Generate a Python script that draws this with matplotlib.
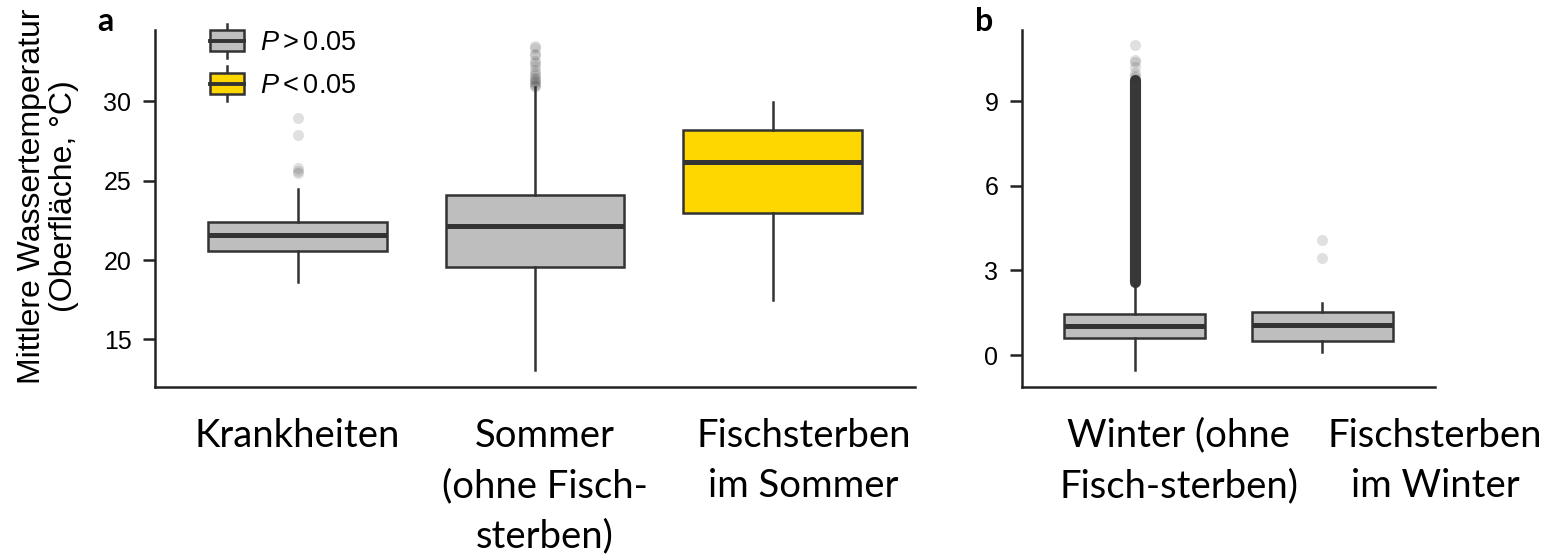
import matplotlib
matplotlib.use("Agg")
import matplotlib.pyplot as plt
from matplotlib.legend_handler import HandlerBase
from matplotlib.patches import Rectangle
from matplotlib.lines import Line2D

# panel a: surface water temperature in summer groups
summer_groups = ["Krankheiten", "Sommer\n(ohne Fisch-\nsterben)", "Fischsterben\nim Sommer"]
summer_q1 = [20.6, 19.55, 22.95]
summer_med = [21.6, 22.12, 26.16]
summer_q3 = [22.4, 24.08, 28.17]
summer_whislo = [18.6, 13.05, 17.46]
summer_whishi = [24.45, 30.88, 29.94]
summer_fliers = [
    [28.93, 27.86, 25.78, 25.62, 25.46],
    [33.5, 33.35, 33.0, 32.9, 32.55, 32.4, 32.2, 32.0, 31.8, 31.65, 31.5,
     31.4, 31.3, 31.2, 31.1, 31.0, 30.95],
    [],
]
summer_signif = [False, False, True]

# panel b: winter groups
winter_groups = ["Winter (ohne\nFisch-sterben)", "Fischsterben\nim Winter"]
winter_q1 = [0.6, 0.5]
winter_med = [1.03, 1.06]
winter_q3 = [1.45, 1.52]
winter_whislo = [-0.53, 0.1]
winter_whishi = [2.55, 1.84]
winter_fliers = [
    [11.0, 10.45, 10.38, 10.2, 10.0, 9.9, 9.82],
    [4.08, 3.44],
]
# range covered by thousands of overlapping outliers (winter without fish kills)
winter_dense_span = (2.6, 9.75)
winter_signif = [False, False]

GREY = "#bebebe"
GOLD = "#ffd700"
INK = "#333333"

plt.rcParams["font.family"] = ["Liberation Sans", "DejaVu Sans"]
plt.rcParams["mathtext.fontset"] = "custom"
plt.rcParams["mathtext.rm"] = "Liberation Sans"
plt.rcParams["mathtext.it"] = "Liberation Sans:italic"

fig = plt.figure(figsize=(15.48, 5.56), dpi=100)
ax_a = fig.add_axes([155 / 1548, 1 - 387 / 556, 760 / 1548, 357 / 556])
ax_b = fig.add_axes([1022 / 1548, 1 - 387 / 556, 413 / 1548, 357 / 556])


def make_stats(q1, med, q3, lo, hi, fliers):
    return [dict(q1=a, med=b, q3=c, whislo=d, whishi=e, fliers=f)
            for a, b, c, d, e, f in zip(q1, med, q3, lo, hi, fliers)]


def draw_boxes(ax, stats, signif):
    pos = list(range(1, len(stats) + 1))
    bp = ax.bxp(stats, positions=pos, widths=0.75, patch_artist=True,
                showcaps=False,
                boxprops=dict(edgecolor=INK, linewidth=1.8),
                medianprops=dict(color=INK, linewidth=3.6, solid_capstyle="butt"),
                whiskerprops=dict(color=INK, linewidth=1.8),
                flierprops=dict(marker="o", markersize=8, markerfacecolor=INK,
                                markeredgecolor="none", alpha=0.15))
    for patch, s in zip(bp["boxes"], signif):
        patch.set_facecolor(GOLD if s else GREY)
    return bp


def style_axes(ax, ylim, yticks):
    ax.set_ylim(*ylim)
    ax.set_yticks(yticks)
    for side in ("top", "right"):
        ax.spines[side].set_visible(False)
    for side in ("left", "bottom"):
        ax.spines[side].set_linewidth(1.8)
        ax.spines[side].set_color("#222222")
    ax.tick_params(axis="y", length=9, width=1.8, color="#222222",
                   labelsize=18, pad=8)
    ax.tick_params(axis="x", length=0, pad=22)


draw_boxes(ax_a, make_stats(summer_q1, summer_med, summer_q3, summer_whislo,
                            summer_whishi, summer_fliers), summer_signif)
draw_boxes(ax_b, make_stats(winter_q1, winter_med, winter_q3, winter_whislo,
                            winter_whishi, winter_fliers), winter_signif)
ax_b.plot([1, 1], winter_dense_span, color="#383838", linewidth=8,
          solid_capstyle="round", zorder=1)

style_axes(ax_a, (12.0, 34.5), [15, 20, 25, 30])
style_axes(ax_b, (-1.13, 11.52), [0, 3, 6, 9])
ax_a.set_xlim(0.4, 3.6)
ax_b.set_xlim(0.4, 2.6)

# category labels sit a little right of some boxes
label_font = dict(family=["Lato", "DejaVu Sans"], size=27.5, linespacing=1.5)
ax_a.set_xticks([1.0, 2.04, 3.13])
ax_a.set_xticklabels(summer_groups, va="top", **label_font)
ax_b.set_xticks([1.234, 2.6])
ax_b.set_xticklabels(winter_groups, va="top", **label_font)

fig.text(48 / 1548, 1 - 196 / 556,
         "Mittlere Wassertemperatur\n(Oberfläche, °C)",
         rotation=90, ha="center", va="center", multialignment="center",
         fontsize=23, linespacing=1.1)

fig.text(97 / 1548, 1 - 31 / 556, "a", fontsize=23, fontweight="bold",
         family=["Lato", "DejaVu Sans"])
fig.text(975 / 1548, 1 - 31 / 556, "b", fontsize=23, fontweight="bold",
         family=["Lato", "DejaVu Sans"])


class BoxGlyph(HandlerBase):
    def create_artists(self, legend, orig_handle, xd, yd, w, h, fontsize, trans):
        x0, y0 = -xd, -yd
        cx = x0 + w / 2
        whisk = Line2D([cx, cx], [y0 - 0.3 * h, y0 + 1.3 * h], color=INK,
                       linewidth=1.8, transform=trans)
        box = Rectangle((x0, y0 + 0.02 * h), w, 0.96 * h,
                        facecolor=orig_handle.get_facecolor(), edgecolor=INK,
                        linewidth=1.8, transform=trans)
        med = Line2D([x0, x0 + w], [y0 + h / 2] * 2, color=INK,
                     linewidth=2.8, transform=trans)
        return [whisk, box, med]


handles = [Rectangle((0, 0), 1, 1, facecolor=GREY),
           Rectangle((0, 0), 1, 1, facecolor=GOLD)]
ax_a.legend(handles, [r"$P > 0.05$", r"$P < 0.05$"],
            handler_map={Rectangle: BoxGlyph()},
            loc="upper left", bbox_to_anchor=(55 / 760, 1.0),
            frameon=False, fontsize=19.5, handlelength=1.25, handleheight=0.85,
            handletextpad=0.6, labelspacing=0.62, borderpad=0,
            borderaxespad=0)

fig.savefig("out.png", dpi=100)
